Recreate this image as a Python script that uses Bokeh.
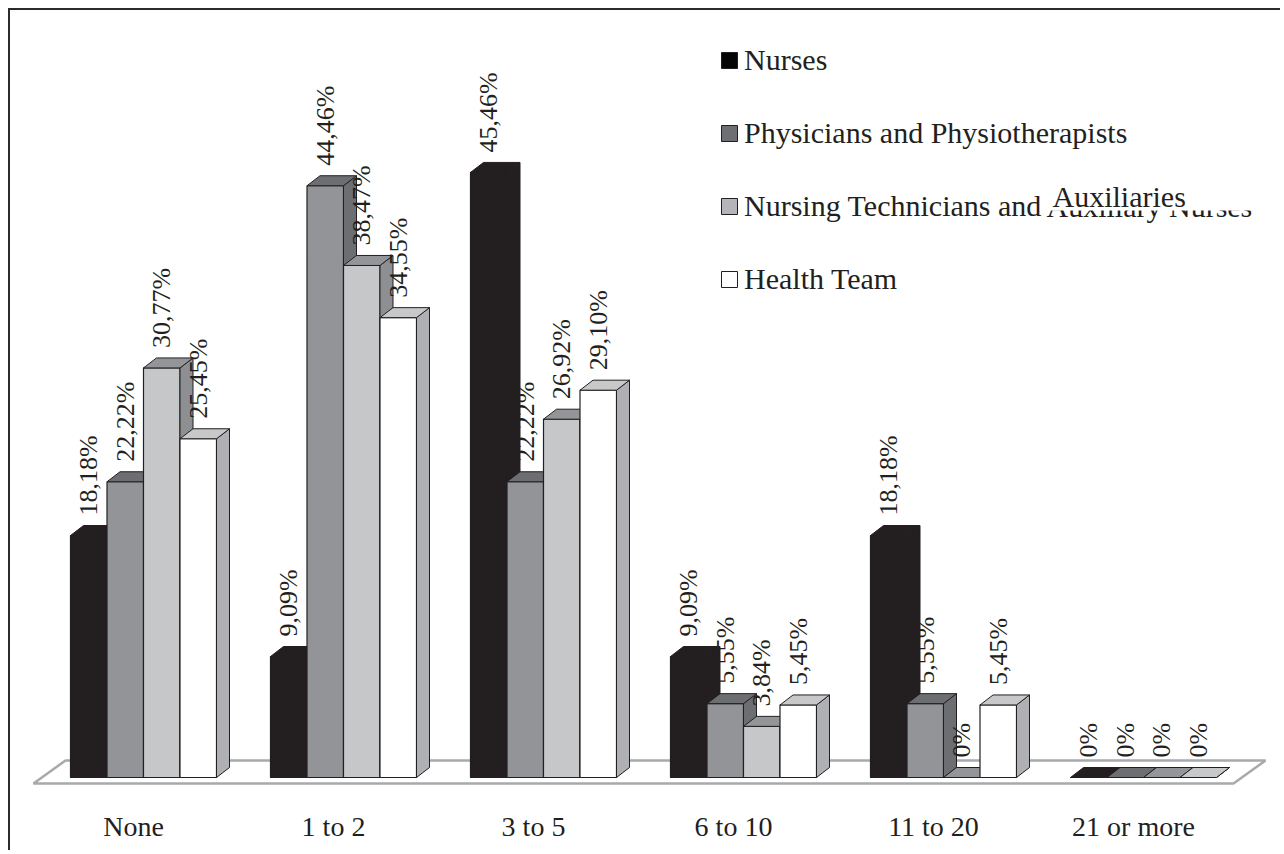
import math
from bokeh.plotting import figure
from bokeh.models import Range1d, FixedTicker, Legend, LegendItem, Label, BoxAnnotation
from bokeh.core.properties import value
from bokeh.embed import file_html
from bokeh.resources import INLINE

# ---------------- data ----------------
categories = ["None", "1 to 2", "3 to 5", "6 to 10", "11 to 20", "21 or more"]
series_names = ["Nurses", "Physicians and Physiotherapists",
                "Nursing Technicians and", "Health Team"]
nurses = [18.18, 9.09, 45.46, 9.09, 18.18, 0]
physicians = [22.22, 44.46, 22.22, 5.55, 5.55, 0]
technicians = [30.77, 38.47, 26.92, 3.84, 0, 0]
health_team = [25.45, 34.55, 29.10, 5.45, 5.45, 0]
hidden_text = "Auxiliary Nurses"
overlay_text = "Auxiliaries"

series = [nurses, physicians, technicians, health_team]

# ---------------- styles ----------------
front_colors = ["#231f20", "#929497", "#c6c7c9", "#ffffff"]
top_colors = ["#231f20", "#6d6e71", "#939598", "#c7c8ca"]
side_colors = ["#231f20", "#6d6e71", "#8d8f92", "#aeb0b3"]
legend_colors = ["#050505", "#6e6f73", "#b3b5b8", "#ffffff"]
EDGE = "#231f20"
FONT = "Liberation Serif"

PX_X = 200.0      # pixels per category unit
PX_Y = 13.31      # pixels per percent
ORIGIN_X = 33     # page x of the front-left floor corner
ORIGIN_Y = 777    # page y of the bar baseline
BAR_W = 0.1825
GROUP_OFF = 0.185
DX = 13 / PX_X
DY = 10 / PX_Y
LABEL_GAP = 20 / PX_Y
FLOOR_FRONT = -6 / PX_Y
FLOOR_DX = 32 / PX_X
FLOOR_DY = 23 / PX_Y


def px_x(px):
    return (px - ORIGIN_X) / PX_X


def px_y(py):
    return (ORIGIN_Y - py) / PX_Y


def fmt(v):
    if v == 0:
        return "0%"
    return ("%.2f" % v).replace(".", ",") + "%"


n = len(categories)

# canvas starts at page (10, 10): 8px margin + 2px border
p = figure(width=1272, height=842, output_backend="svg", toolbar_location=None,
           x_range=Range1d(px_x(10), px_x(1282)), y_range=Range1d(px_y(795), px_y(10)),
           y_axis_location=None, min_border_left=0, min_border_right=0,
           min_border_top=0, min_border_bottom=57)
p.outline_line_color = None
p.grid.visible = False
p.background_fill_color = "white"
p.border_fill_color = "white"
p.styles = {"margin-left": "8px", "margin-top": "8px",
            "border-left": "2px solid #2b2b2b", "border-top": "2px solid #2b2b2b"}

# floor
p.patch(x=[0, n, n + FLOOR_DX, FLOOR_DX],
        y=[FLOOR_FRONT, FLOOR_FRONT, FLOOR_FRONT + FLOOR_DY, FLOOR_FRONT + FLOOR_DY],
        fill_color="white", line_color="#a7a9ac", line_width=2.5)

# bars
label_x, label_y, label_t = [], [], []
for j, vals in enumerate(series):
    lefts = [i + GROUP_OFF + j * BAR_W for i in range(n)]
    rights = [l + BAR_W for l in lefts]
    p.quad(left=lefts, right=rights, bottom=[0] * n, top=vals,
           fill_color=front_colors[j], line_color=EDGE, line_width=1.2)
    side_xs = [[r, r + DX, r + DX, r] for r in rights]
    side_ys = [[0, DY, v + DY, v] for v in vals]
    p.patches(xs=side_xs, ys=side_ys, fill_color=side_colors[j],
              line_color=EDGE, line_width=1)
    top_xs = [[l, l + DX, r + DX, r] for l, r in zip(lefts, rights)]
    top_ys = [[v, v + DY, v + DY, v] for v in vals]
    p.patches(xs=top_xs, ys=top_ys, fill_color=top_colors[j],
              line_color=EDGE, line_width=1)
    for l, v in zip(lefts, vals):
        label_x.append(l + BAR_W / 2)
        label_y.append(v + LABEL_GAP)
        label_t.append(fmt(v))

p.text(x=label_x, y=label_y, text=label_t, angle=math.pi / 2,
       text_align="left", text_baseline="middle",
       text_font=value(FONT), text_font_size="26px", text_color=EDGE)

# x axis
p.xaxis.ticker = FixedTicker(ticks=[i + 0.5 for i in range(n)])
p.xaxis.major_label_overrides = {i + 0.5: c for i, c in enumerate(categories)}
p.xaxis.axis_line_color = None
p.xaxis.major_tick_line_color = None
p.xaxis.minor_tick_line_color = None
p.xaxis.major_tick_out = 0
p.xaxis.major_tick_in = 0
p.xaxis.major_label_standoff = 15
p.xaxis.major_label_text_font = FONT
p.xaxis.major_label_text_font_size = "28px"
p.xaxis.major_label_text_color = EDGE

# legend (swatch renderers hold a single NaN row so that nothing is drawn in the plot)
nan = float("nan")
items = []
for j, name in enumerate(series_names):
    r = p.quad(left=[nan], right=[nan], top=[nan], bottom=[nan],
               fill_color=legend_colors[j], line_color=EDGE, line_width=1)
    items.append(LegendItem(label=name, renderers=[r]))
legend = Legend(items=items, location=(709, 498), orientation="vertical",
                label_text_font=FONT, label_text_font_size="30px",
                label_text_color=EDGE, glyph_width=20, glyph_height=20,
                label_standoff=5, spacing=37, label_height=36, padding=0,
                margin=0, border_line_color=None, background_fill_alpha=0)
p.add_layout(legend, "center")

# end of the third legend label, mostly hidden under "Auxiliaries"
# (text anchored by its middle: baseline sits ~10.5px below the anchor)
p.text(x=[px_x(1046)], y=[px_y(206)], text=[hidden_text],
       text_align="left", text_baseline="middle",
       text_font=value(FONT), text_font_size="30px", text_color=EDGE)
p.add_layout(BoxAnnotation(left=px_x(1043), right=px_x(1264),
                           top=px_y(186), bottom=px_y(210),
                           fill_color="white", fill_alpha=1, line_color=None))
p.add_layout(Label(x=px_x(1052), y=px_y(195.5), text=overlay_text, level="overlay",
                   text_font=FONT, text_font_size="30px", text_color=EDGE,
                   text_baseline="middle"))

open("out.html", "w").write(file_html(p, INLINE))
